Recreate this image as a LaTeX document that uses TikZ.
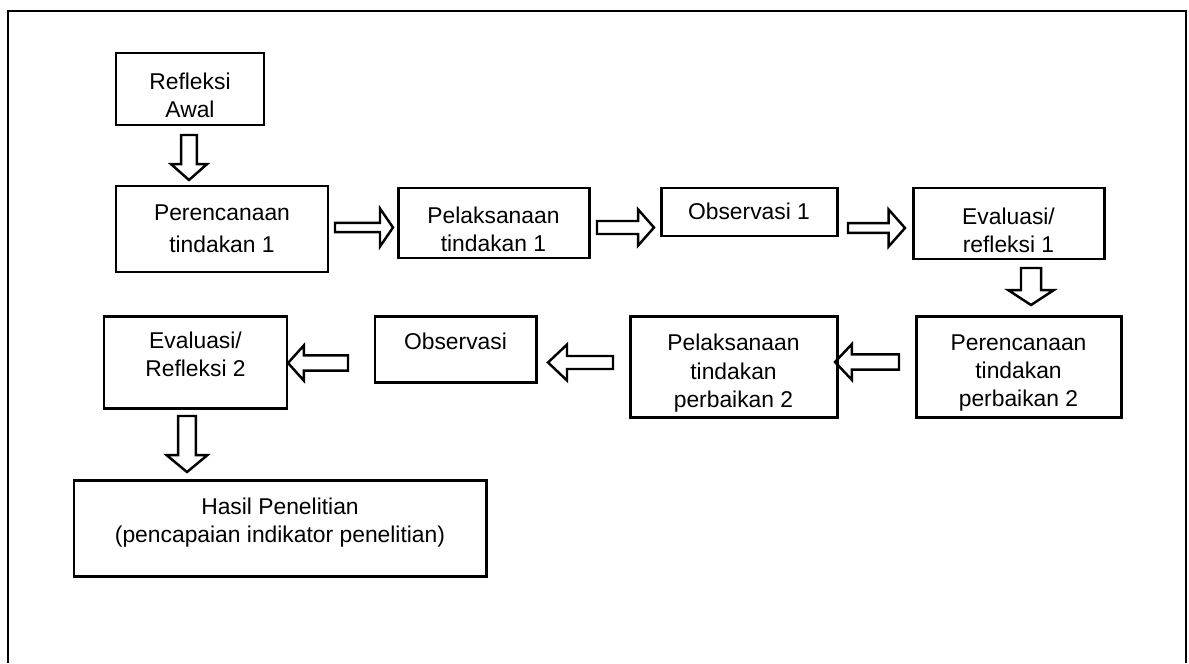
\documentclass[tikz,border=0pt]{standalone}
\usepackage{fontspec}
\setmainfont{Liberation Sans}
\usetikzlibrary{calc}

\tikzset{
  blk/.style={draw, line width=1.7pt, inner sep=0pt, outer sep=0pt},
  sz/.style 2 args={minimum width=#1*0.02cm, minimum height=#2*0.02cm},
  lbl/.style={align=center, inner sep=0pt, yshift=-3.8pt,
    font=\fontsize{13}{16}\selectfont},
  txt/.style={label={[lbl]center:{#1}}},
  fat/.style n args={3}{draw, line width=1.4pt, line join=miter,
    to path={
      ($(\tikztostart)!#1!90:(\tikztotarget)$)
      -- ($(\tikztotarget)!#3!(\tikztostart)!#1!-90:(\tikztostart)$)
      -- ($(\tikztotarget)!#3!(\tikztostart)!#2!-90:(\tikztostart)$)
      -- (\tikztotarget)
      -- ($(\tikztotarget)!#3!(\tikztostart)!#2!90:(\tikztostart)$)
      -- ($(\tikztotarget)!#3!(\tikztostart)!#1!90:(\tikztostart)$)
      -- ($(\tikztostart)!#1!-90:(\tikztotarget)$)
      -- cycle}}
}

\begin{document}
\begin{tikzpicture}[x=0.02cm, y=-0.02cm]
\useasboundingbox (0,0) rectangle (1189,663);
\draw[line width=1.1pt] (8,663) -- (8,11) -- (1186,11) -- (1186,663);

\node[blk, sz={148}{72}, txt={Refleksi\\Awal}] (awal) at (190,89) {};
\node[blk, sz={212}{86}, label={[lbl, yshift=3.8pt,
  font=\fontsize{13}{18}\selectfont]center:{Perencanaan\\tindakan 1}}] (per1) at (222,229) {};
\node[blk, sz={191}{70}, txt={Pelaksanaan\\tindakan 1}] (pel1) at (493.5,223) {};
\node[blk, sz={176}{48}, txt={Observasi 1\\[-7pt]~}] (obs1) at (749,212) {};
\node[blk, sz={191}{71}, txt={Evaluasi/\\refleksi 1}] (eval1) at (1008.5,223.5) {};
\node[blk, sz={205}{101}, txt={Perencanaan\\tindakan\\perbaikan 2}] (per2) at (1018.5,366.5) {};
\node[blk, sz={207}{101}, txt={Pelaksanaan\\tindakan\\perbaikan 2}] (pel2) at (733.5,366.5) {};
\node[blk, sz={161}{66}, txt={Observasi\\~}] (obs2) at (455.5,349) {};
\node[blk, sz={183}{92}, txt={Evaluasi/\\Refleksi 2\\~}] (eval2) at (195.5,362) {};
\node[blk, sz={412}{96}, txt={Hasil Penelitian\\(pencapaian indikator penelitian)\\~}] (hasil) at (280,528) {};

\coordinate (a1s) at ($(awal.south)+(-1,10)$);
\coordinate (a1e) at ($(per1.north)+(-33,-6)$);
\coordinate (a2s) at ($(per1.east)+(7,-1.5)$);
\coordinate (a2e) at ($(pel1.west)+(-5,4.5)$);
\coordinate (a3s) at ($(pel1.east)+(8,4.5)$);
\coordinate (a3e) at ($(obs1.west)+(-7,15.5)$);
\coordinate (a4s) at ($(obs1.east)+(11,16)$);
\coordinate (a4e) at ($(eval1.west)+(-8,4.5)$);
\coordinate (a5s) at ($(eval1.south)+(22.5,9)$);
\coordinate (a5e) at ($(per2.north)+(12.5,-11)$);
\coordinate (a6s) at ($(per2.west)+(-17,-4.5)$);
\coordinate (a6e) at ($(pel2.east)+(-2,-4.5)$);
\coordinate (a7s) at ($(pel2.west)+(-17,-4)$);
\coordinate (a7e) at ($(obs2.east)+(12,13.5)$);
\coordinate (a8s) at ($(obs2.west)+(-27,14)$);
\coordinate (a8e) at ($(eval2.east)+(1,1)$);
\coordinate (a9s) at ($(eval2.south)+(-8.5,8)$);
\coordinate (a9e) at ($(hasil.north)+(-93,-8)$);

\draw[fat={4.5pt}{10.2pt}{9pt}] (a1s) to (a1e);
\draw[fat={2.6pt}{10.8pt}{7.4pt}] (a2s) to (a2e);
\draw[fat={3.7pt}{10.2pt}{9pt}] (a3s) to (a3e);
\draw[fat={2.8pt}{10.5pt}{9.3pt}] (a4s) to (a4e);
\draw[fat={5.7pt}{13pt}{8.5pt}] (a5s) to (a5e);
\draw[fat={4.3pt}{10.2pt}{9.6pt}] (a6s) to (a6e);
\draw[fat={3.7pt}{10.2pt}{10.8pt}] (a7s) to (a7e);
\draw[fat={4.3pt}{10pt}{9pt}] (a8s) to (a8e);
\draw[fat={5.1pt}{11.6pt}{9.6pt}] (a9s) to (a9e);
\end{tikzpicture}
\end{document}
